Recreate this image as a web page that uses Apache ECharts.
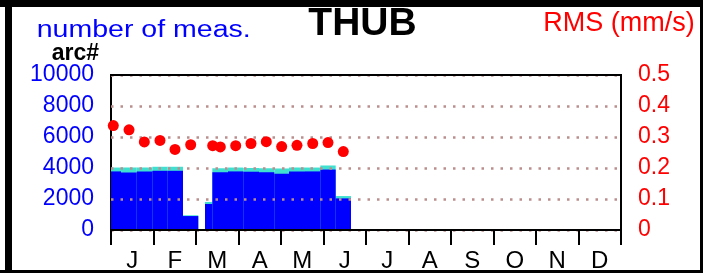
<!DOCTYPE html>
<html>
<head>
<meta charset="utf-8">
<script src="https://cdn.jsdelivr.net/npm/echarts@6/dist/echarts.min.js"></script>
<style>
  html, body { margin: 0; padding: 0; background: #fff; }
  #chart { width: 703px; height: 273px; }
</style>
</head>
<body>
<div id="chart"></div>
<script>
// month labels along the bottom
const months = ['J', 'F', 'M', 'A', 'M', 'J', 'J', 'A', 'S', 'O', 'N', 'D'];

// counting periods, in months from 1 Jan
const periodStart = [0, 0.235, 0.605, 0.972, 1.334, 1.694, 2.212, 2.384, 2.753, 3.113, 3.482, 3.842, 4.188, 4.565, 4.925, 5.287];
const periodEnd = [0.235, 0.605, 0.972, 1.334, 1.694, 2.054, 2.384, 2.753, 3.113, 3.482, 3.842, 4.188, 4.565, 4.925, 5.287, 5.647];
// number of measurements: all (cyan top) and arc# (blue)
const countAll = [4030, 4030, 4030, 4080, 4080, 950, 1810, 3990, 4030, 4000, 3990, 3970, 4030, 4030, 4160, 2190];
const countArc = [3780, 3710, 3780, 3820, 3820, 900, 1680, 3730, 3780, 3760, 3720, 3630, 3780, 3780, 3900, 2040];

// RMS points (month position, mm/s)
const rmsMonth = [0.054, 0.424, 0.784, 1.153, 1.506, 1.875, 2.393, 2.572, 2.934, 3.294, 3.654, 4.016, 4.376, 4.746, 5.106, 5.466];
const rmsValue = [0.337, 0.323, 0.284, 0.289, 0.260, 0.275, 0.272, 0.268, 0.272, 0.279, 0.285, 0.269, 0.273, 0.279, 0.282, 0.253];

const FONT = 'Liberation Sans, Arial, sans-serif';

function periodData(values) {
  let out = [];
  for (let i = 0; i < values.length; i++) {
    out.push([periodStart[i], periodEnd[i], values[i]]);
  }
  return out;
}

function renderPeriod(params, api) {
  const p0 = api.coord([api.value(0), 0]);
  const p1 = api.coord([api.value(1), api.value(2)]);
  return {
    type: 'rect',
    shape: { x: p0[0], y: p1[1], width: p1[0] - p0[0], height: p0[1] - p1[1] },
    style: { fill: api.visual('color') }
  };
}

const chart = echarts.init(document.getElementById('chart'));
chart.setOption({
  animation: false,
  grid: {
    left: 111, right: 82, top: 75, bottom: 41,
    show: true, borderColor: '#000', borderWidth: 2
  },
  xAxis: [
    { type: 'value', min: 0, max: 12, show: false },
    {
      type: 'category', data: months, position: 'bottom', z: 5,
      axisLine: { show: true, lineStyle: { color: '#000', width: 2 } },
      axisTick: { show: true, interval: 0, alignWithLabel: false, length: 15, lineStyle: { color: '#000', width: 2 } },
      axisLabel: { color: '#000', fontSize: 24, fontFamily: FONT, margin: 19, interval: 0 },
      splitLine: { show: false }
    },
    {
      // top edge of the frame, over the dotted lines
      type: 'category', data: months, position: 'top', z: 5,
      axisLine: { show: true, lineStyle: { color: '#000', width: 2 } },
      axisTick: { show: false },
      axisLabel: { show: false },
      splitLine: { show: false }
    }
  ],
  yAxis: [
    {
      type: 'value', min: 0, max: 10000, interval: 2000, position: 'left',
      axisLine: { show: true, lineStyle: { color: '#000', width: 2 } },
      axisTick: { show: false },
      splitLine: { show: false },
      axisLabel: { color: '#0000ff', fontSize: 23, fontFamily: FONT, margin: 17, formatter: v => String(v) }
    },
    {
      type: 'value', min: 0, max: 0.5, interval: 0.1, position: 'right', z: 3,
      axisLine: { show: false },
      axisTick: { show: false },
      splitLine: { lineStyle: { color: '#bb8e8e', width: 2.5, type: [2.5, 7] } },
      axisLabel: { color: '#ff0000', fontSize: 23, fontFamily: FONT, margin: 17 }
    }
  ],
  series: [
    {
      name: 'all', type: 'custom', xAxisIndex: 0, yAxisIndex: 0, z: 1,
      itemStyle: { color: '#40e0d0' },
      encode: { x: [0, 1], y: 2 },
      renderItem: renderPeriod,
      data: periodData(countAll)
    },
    {
      name: 'arc', type: 'custom', xAxisIndex: 0, yAxisIndex: 0, z: 2,
      itemStyle: { color: '#0000ff' },
      encode: { x: [0, 1], y: 2 },
      renderItem: renderPeriod,
      data: periodData(countArc)
    },
    {
      name: 'RMS', type: 'scatter', xAxisIndex: 0, yAxisIndex: 1, z: 6,
      symbolSize: 11,
      itemStyle: { color: '#ff0000', opacity: 1 },
      data: rmsMonth.map((m, i) => [m, rmsValue[i]])
    }
  ],
  graphic: [
    // outer frame
    { type: 'rect', shape: { x: 0, y: 0, width: 703, height: 7 }, style: { fill: '#000' } },
    { type: 'rect', shape: { x: 5, y: 0, width: 7, height: 273 }, style: { fill: '#000' } },
    { type: 'rect', shape: { x: 0, y: 270, width: 703, height: 3 }, style: { fill: '#000' } },
    { type: 'rect', shape: { x: 700, y: 0, width: 3, height: 273 }, style: { fill: '#000' } },
    // titles
    {
      type: 'text', x: 36.7, y: 31, scaleX: 1.24,
      style: { text: 'number of meas.', fill: '#0000ff', font: '23px ' + FONT, align: 'left', verticalAlign: 'middle' }
    },
    {
      type: 'text', x: 362.5, y: 24.5,
      style: { text: 'THUB', fill: '#000', font: 'bold 39px ' + FONT, align: 'center', verticalAlign: 'middle' }
    },
    {
      type: 'text', x: 619, y: 24,
      style: { text: 'RMS (mm/s)', fill: '#ff0000', font: '27px ' + FONT, align: 'center', verticalAlign: 'middle' }
    },
    {
      type: 'text', x: 51.7, y: 54,
      style: { text: 'arc#', fill: '#000', font: 'bold 23px ' + FONT, align: 'left', verticalAlign: 'middle' }
    }
  ]
});
</script>
</body>
</html>
